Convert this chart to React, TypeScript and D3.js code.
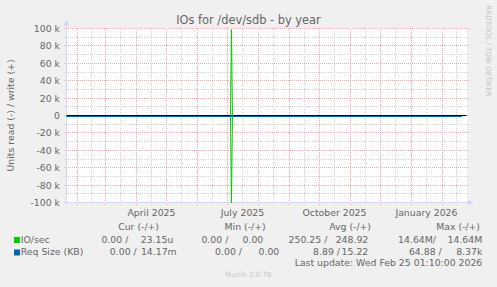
import React from "react";
import * as d3 from "d3";

const W = 497;
const H = 287;

// time window of the yearly graph
const startTime = "2025-01-21T01:10:00Z";
const endTime = "2026-02-25T01:10:00Z";

// daily samples (value changes only)
const sampleDates = ["2025-01-21", "2025-07-04", "2025-07-05", "2025-07-06", "2026-02-20"];
const ioRead = [0, 0, 99570, 0, 0];
const ioWrite = [0, 0, 100100, 0, 0];
const reqRead = [9, 9, 9, 9, 9];
const reqWrite = [15, 15, 15, 15, 15];

const yMajorTicks = [-100000, -80000, -60000, -40000, -20000, 0, 20000, 40000, 60000, 80000, 100000];
const yMinorTicks = [-90000, -70000, -50000, -30000, -10000, 10000, 30000, 50000, 70000, 90000];
const xLabelDates = ["2025-04-01", "2025-07-01", "2025-10-01", "2026-01-01"];
const xLabels = ["April 2025", "July 2025", "October 2025", "January 2026"];

const legendHeaders = ["Cur (-/+)", "Min (-/+)", "Avg (-/+)", "Max (-/+)"];
const seriesNames = ["IO/sec", "Req Size (KB)"];
const seriesColors = ["#00cc00", "#0066b3"];
const ioStats = ["0.00 /", "23.15u", "0.00 /", "0.00", "250.25 /", "248.92", "14.64M/", "14.64M"];
const reqStats = ["0.00 /", "14.17m", "0.00 /", "0.00", "8.89 /", "15.22", "64.88 /", "8.37k"];

const FONT = "DejaVu Sans, Verdana, sans-serif";
const TXT = "#666666";

export default function App() {
  const parseDay = d3.utcParse("%Y-%m-%d");
  const t0 = new Date(startTime);
  const t1 = new Date(endTime);
  const x = d3.scaleUtc().domain([t0, t1]).range([66.5, 466.5]);
  const y = d3.scaleLinear().domain([-100000, 100000]).range([202.5, 28.5]);

  const dates = sampleDates.map((s) => parseDay(s) as Date);
  const mk = (vals: number[], sign: number) =>
    d3
      .line<number>()
      .x((_, i) => x(dates[i]))
      .y((v) => y(sign * v))(vals) || "";

  const monthStarts = d3.utcMonth.range(d3.utcMonth.ceil(t0), t1);
  const allMonths = d3.utcMonth.range(d3.utcMonth.floor(t0), d3.utcMonth.offset(t1, 1));
  const midMonths: Date[] = [];
  for (let i = 0; i < allMonths.length - 1; i++) {
    const m = new Date((allMonths[i].getTime() + allMonths[i + 1].getTime()) / 2);
    if (m > t0 && m < t1) midMonths.push(m);
  }

  const px = (v: number) => Math.floor(v) + 0.5;

  const rowEnds1 = [128.3, 173.3, 228.3, 263.3, 327.3, 368.3, 436, 482.3];
  const rowEnds2 = [136.7, 176.7, 242, 279.3, 340, 368.3, 441.7, 482.3];
  const headerEnds = [159, 265.7, 371, 480];

  return (
    <svg
      width={W}
      height={H}
      style={{ position: "fixed", left: 0, top: 0 }}
      fontFamily={FONT}
    >
      <rect x={0} y={0} width={W} height={H} fill="#f0f0f0" />
      <rect x={67} y={28} width={400} height={175} fill="#ffffff" />

      {/* minor grid */}
      <g stroke="#d4d4d4" strokeWidth={1} strokeDasharray="1,1" shapeRendering="crispEdges">
        {yMinorTicks.map((v) => (
          <line key={"ym" + v} x1={64} x2={469} y1={px(y(v))} y2={px(y(v))} />
        ))}
        {midMonths.map((d) => (
          <line key={"xm" + d.getTime()} x1={px(x(d))} x2={px(x(d))} y1={28} y2={205} />
        ))}
      </g>
      {/* major grid */}
      <g stroke="#f0aaaa" strokeWidth={1} strokeDasharray="1,1" shapeRendering="crispEdges">
        {yMajorTicks.map((v) => (
          <line key={"yM" + v} x1={64} x2={469} y1={px(y(v))} y2={px(y(v))} />
        ))}
        {monthStarts.map((d) => (
          <line key={"xM" + d.getTime()} x1={px(x(d))} x2={px(x(d))} y1={28} y2={205} />
        ))}
      </g>

      {/* axes */}
      <g stroke="#cfd6f8" strokeWidth={1} shapeRendering="crispEdges">
        <line x1={66.5} x2={66.5} y1={205} y2={24} />
        <line x1={64} x2={469} y1={202.5} y2={202.5} />
      </g>
      <polygon points="63.5,25.5 66.5,20 69.5,25.5" fill="#cfd6f8" />
      <polygon points="468,199.5 473.5,202.5 468,205.5" fill="#cfd6f8" />

      {/* data */}
      <defs>
        <clipPath id="plotclip">
          <rect x={66.5} y={28} width={400.5} height={175} />
        </clipPath>
      </defs>
      <line x1={66.5} x2={466.5} y1={115.5} y2={115.5} stroke="#000000" strokeWidth={1} />
      <g clipPath="url(#plotclip)">
        <g transform="translate(0,1)" fill="none" strokeWidth={1}>
          <path d={mk(ioRead, -1)} stroke={seriesColors[0]} />
          <path d={mk(ioWrite, 1)} stroke={seriesColors[0]} />
          <path d={mk(reqRead, -1)} stroke={seriesColors[1]} />
          <path d={mk(reqWrite, 1)} stroke={seriesColors[1]} />
        </g>
      </g>

      {/* title */}
      <text x={248.5} y={24} textAnchor="middle" fontSize={11.4} fill={TXT}>
        IOs for /dev/sdb - by year
      </text>

      {/* y labels */}
      <g fontSize={9.33} fill={TXT} textAnchor="end">
        {yMajorTicks.map((v) => (
          <text key={"yl" + v} x={60} y={px(y(v)) + 3.3}>
            {v === 0 ? "0" : `${v / 1000} k`}
          </text>
        ))}
      </g>
      <text
        transform="translate(14,115.5) rotate(-90)"
        textAnchor="middle"
        fontSize={9.33}
        fill={TXT}
      >
        Units read (-) / write (+)
      </text>

      {/* x labels */}
      <g fontSize={9.33} fill={TXT} textAnchor="middle">
        {xLabelDates.map((s, i) => (
          <text key={s} x={x(d3.utcDay.offset(parseDay(s) as Date, 15))} y={216}>
            {xLabels[i]}
          </text>
        ))}
      </g>

      {/* watermark */}
      <text
        transform="translate(486,51) rotate(90)"
        textAnchor="middle"
        fontSize={7.1}
        fill="#c4c4c4"
      >
        RRDTOOL / TOBI OETIKER
      </text>

      {/* legend */}
      <g fontSize={9.33} fill={TXT}>
        {legendHeaders.map((h, i) => (
          <text key={h} x={headerEnds[i]} y={230} textAnchor="end">
            {h}
          </text>
        ))}
        <rect x={14} y={237} width={6} height={6} fill={seriesColors[0]} />
        <text x={20.7} y={242.5}>{seriesNames[0]}</text>
        {ioStats.map((s, i) => (
          <text key={"io" + i} x={rowEnds1[i]} y={242.5} textAnchor="end">
            {s}
          </text>
        ))}
        <rect x={14} y={249.5} width={6} height={6} fill={seriesColors[1]} />
        <text x={20.7} y={254.7}>{seriesNames[1]}</text>
        {reqStats.map((s, i) => (
          <text key={"rq" + i} x={rowEnds2[i]} y={254.7} textAnchor="end">
            {s}
          </text>
        ))}
        <text x={482.3} y={266} textAnchor="end">
          Last update: Wed Feb 25 01:10:00 2026
        </text>
      </g>
      <text x={248.3} y={277} textAnchor="middle" fontSize={7.1} fill="#c8c8c8">
        Munin 2.0.76
      </text>
    </svg>
  );
}
